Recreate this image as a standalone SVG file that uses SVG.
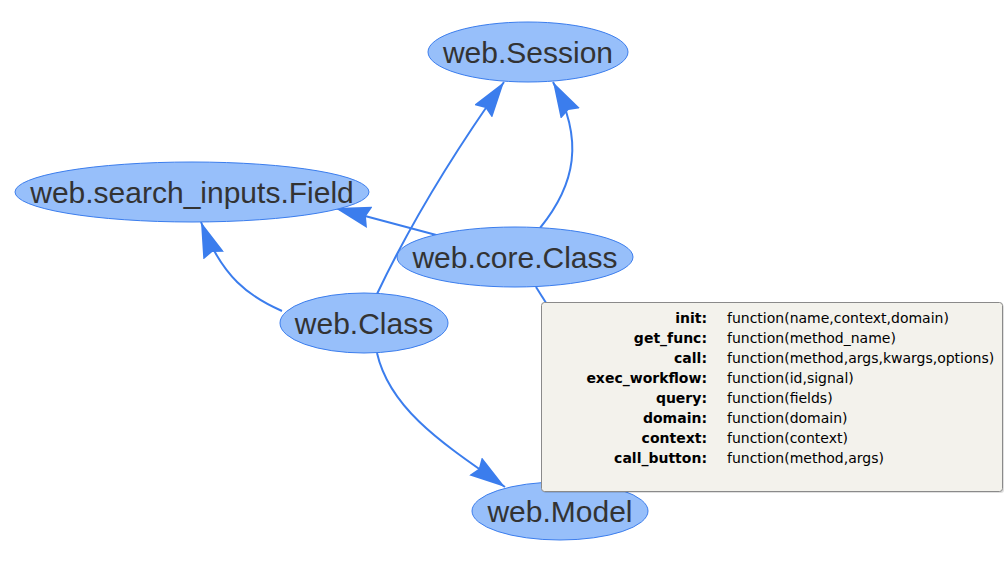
<svg xmlns="http://www.w3.org/2000/svg" width="1008" height="566" viewBox="0 0 1008 566">
<style>
.node ellipse{fill:#97bffa;stroke:#3b7ded;stroke-width:1}
.node text{font-family:"Liberation Sans",Arial,sans-serif;font-size:30px;fill:#333;text-anchor:middle}
.edge{fill:none;stroke:#3b7ded;stroke-width:2}
.tip text{font-family:"DejaVu Sans",sans-serif;font-size:14px;fill:#000}
.tip .k{font-weight:bold;text-anchor:end}
</style>
<defs>
<marker id="arr" viewBox="0 0 36 22" refX="36" refY="11" markerWidth="36" markerHeight="22" markerUnits="userSpaceOnUse" orient="auto">
<path d="M0,0 L36,11 L0,22 L4,11 z" fill="#3b7ded"/>
</marker>
</defs>
<rect width="1008" height="566" fill="#fff"/>
<g id="edges">
<path class="edge" d="M377,294 C405,235 445,165 504,82" marker-end="url(#arr)"/>
<path class="edge" d="M540,228 C575,185 585,140 553,82" marker-end="url(#arr)"/>
<path class="edge" d="M440,236 L335,208" marker-end="url(#arr)"/>
<path class="edge" d="M282,311 C250,297 222,278 201,222" marker-end="url(#arr)"/>
<path class="edge" d="M377,353 C390,410 445,445 505,487" marker-end="url(#arr)"/>
<path class="edge" d="M536,287 L548,306"/>
</g>
<g id="node-session" class="node"><ellipse cx="528" cy="52" rx="100" ry="30"/><text x="528" y="62.5">web.Session</text></g>
<g id="node-field" class="node"><ellipse cx="192" cy="192" rx="177" ry="30"/><text x="192" y="202.5">web.search_inputs.Field</text></g>
<g id="node-coreclass" class="node"><ellipse cx="515" cy="257" rx="118" ry="30"/><text x="515" y="267.5">web.core.Class</text></g>
<g id="node-class" class="node"><ellipse cx="364" cy="323" rx="84" ry="30"/><text x="364" y="333.5">web.Class</text></g>
<g id="node-model" class="node"><ellipse cx="560" cy="511" rx="88" ry="29"/><text x="560" y="521.5">web.Model</text></g>
<g id="tooltip" class="tip">
<rect x="543" y="304" width="461" height="189" rx="3" fill="#000" opacity="0.12"/>
<rect x="541.5" y="302.5" width="461" height="189" rx="3" fill="#f3f2ec" stroke="#8a8a8a"/>
<text class="k" x="707" y="323">init:</text><text x="727" y="323">function(name,context,domain)</text>
<text class="k" x="707" y="343">get_func:</text><text x="727" y="343">function(method_name)</text>
<text class="k" x="707" y="363">call:</text><text x="727" y="363">function(method,args,kwargs,options)</text>
<text class="k" x="707" y="383">exec_workflow:</text><text x="727" y="383">function(id,signal)</text>
<text class="k" x="707" y="403">query:</text><text x="727" y="403">function(fields)</text>
<text class="k" x="707" y="423">domain:</text><text x="727" y="423">function(domain)</text>
<text class="k" x="707" y="443">context:</text><text x="727" y="443">function(context)</text>
<text class="k" x="707" y="463">call_button:</text><text x="727" y="463">function(method,args)</text>
</g>
</svg>
